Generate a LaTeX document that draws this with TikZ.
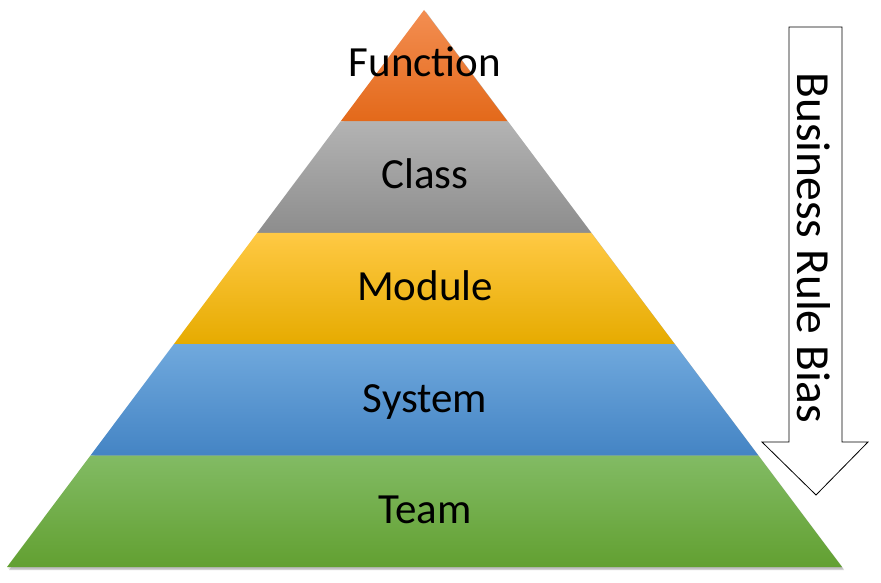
\documentclass[tikz,border=0pt]{standalone}
\usepackage{fontspec}
\setmainfont{Carlito}
\usetikzlibrary{calc}
\definecolor{orT}{HTML}{F38E52}
\definecolor{orB}{HTML}{E3691A}
\definecolor{grT}{HTML}{B3B3B3}
\definecolor{grB}{HTML}{8D8D8D}
\definecolor{yeT}{HTML}{FFC944}
\definecolor{yeM}{HTML}{FFC000}
\definecolor{yeB}{HTML}{E6AB00}
\definecolor{blT}{HTML}{70A9DD}
\definecolor{blM}{HTML}{5599D8}
\definecolor{blB}{HTML}{4484C4}
\definecolor{gnT}{HTML}{82BB64}
\definecolor{gnM}{HTML}{70AF42}
\definecolor{gnB}{HTML}{62A031}
\tikzset{
  lvl/.style={font=\fontsize{43}{51}\selectfont, text=black, inner sep=0pt, anchor=base},
  sidetxt/.style={font=\fontsize{47.5}{56}\selectfont, text=black, inner sep=0pt, rotate=-90},
  arrowbox/.style={draw=black, line width=0.8pt, fill=white, line join=miter},
}
\begin{document}
\begin{tikzpicture}[x=1pt,y=-1pt]
\useasboundingbox (0,0) rectangle (881,583);
\coordinate (apex) at (424,10);
\coordinate (bl) at (7,567);
\coordinate (br) at (842,567);
\foreach \f/\n in {0.2/1,0.4/2,0.6/3,0.8/4}{
  \coordinate (l\n) at ($(apex)!\f!(bl)$);
  \coordinate (r\n) at ($(apex)!\f!(br)$);
}
% soft shadow
\fill[black, opacity=0.18] ($(apex)+(2,2)$) -- ($(bl)+(2,3)$) -- ($(br)+(2,3)$) -- cycle;
\fill[black, opacity=0.12] ($(apex)+(1,1)$) -- ($(bl)+(1,1.5)$) -- ($(br)+(1.5,1.5)$) -- cycle;
% bands
\shade[top color=orT, bottom color=orB] (apex) -- (l1) -- (r1) -- cycle;
\shade[top color=grT, bottom color=grB] (l1) -- (l2) -- (r2) -- (r1) -- cycle;
\shade[top color=yeT, middle color=yeM, bottom color=yeB] (l2) -- (l3) -- (r3) -- (r2) -- cycle;
\shade[top color=blT, middle color=blM, bottom color=blB] (l3) -- (l4) -- (r4) -- (r3) -- cycle;
\shade[top color=gnT, middle color=gnM, bottom color=gnB] (l4) -- (bl) -- (br) -- (r4) -- cycle;
% labels
\node[lvl] (function) at (425,77) {Function};
\node[lvl] (class) at (425,189) {Class};
\node[lvl] (module) at (425,300) {Module};
\node[lvl] (system) at (425,412) {System};
\node[lvl] (team) at (425,523) {Team};
% arrow
\draw[arrowbox] (789,27) -- (842,27) -- (842,442) -- (868,442) -- (816,495) -- (762,442) -- (789,442) -- cycle;
\node[sidetxt] (bias) at (814,248) {Business Rule Bias};
\end{tikzpicture}
\end{document}
